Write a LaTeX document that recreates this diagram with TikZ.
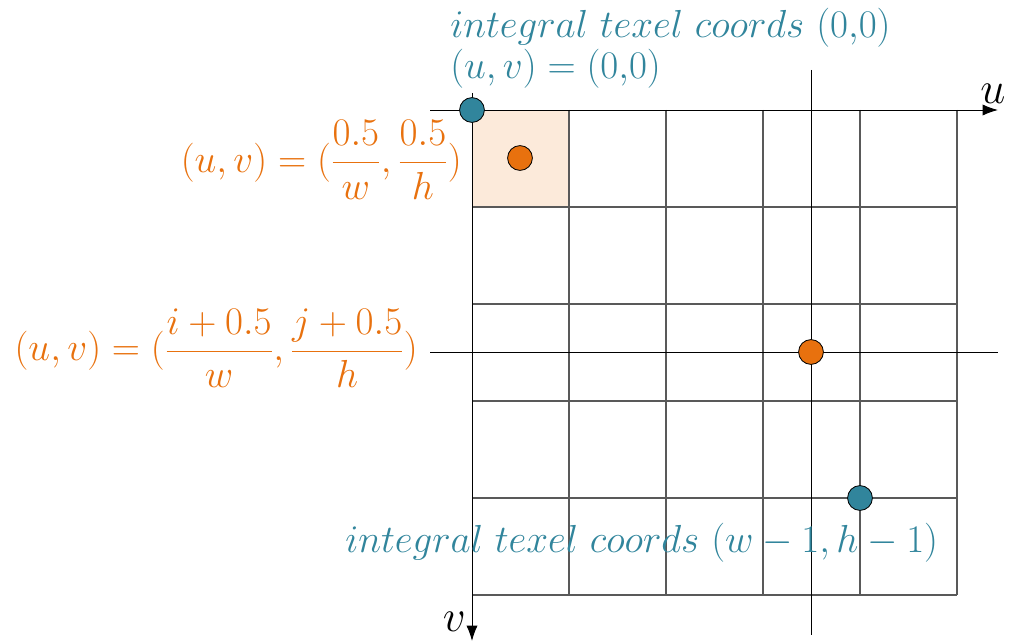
\RequirePackage{fix-cm}
\documentclass[tikz,border=0pt]{standalone}
\usetikzlibrary{arrows.meta, positioning}
\definecolor{TexelBlue}{RGB}{49,133,156}
\definecolor{TexelOrange}{RGB}{232,113,14}
\definecolor{TexelFill}{RGB}{252,234,218}
\begin{document}
\begin{tikzpicture}[x=0.025cm, y=-0.025cm,
    gridline/.style={draw=black!65, line width=0.8pt},
    axisline/.style={draw=black, line width=0.7pt},
    axisarrow/.style={axisline, -{Latex[length=11pt,width=8pt]}},
    dot/.style={circle, draw=black, line width=0.6pt, inner sep=0pt, minimum size=0.62cm},
    lbl/.style={font=\fontsize{27.8}{32}\selectfont, inner sep=0pt}]
\useasboundingbox (0,0) rectangle (1013,644);
% first texel
\fill[TexelFill] (472,110) rectangle (569,207);
% texel grid
\foreach \k in {1,...,5} {
    \draw[gridline] (472,110+97*\k) -- (957,110+97*\k);
    \draw[gridline] (472+97*\k,110) -- (472+97*\k,595);
}
% axes
\coordinate (uStart) at (430,110);
\coordinate (uEnd) at (998,110);
\coordinate (vStart) at (472,93);
\coordinate (vEnd) at (472,641);
\draw[axisarrow] (uStart) -- (uEnd);
\draw[axisarrow] (vStart) -- (vEnd);
\node[lbl, font=\fontsize{32}{36}\selectfont, anchor=south] (uLabel) at (993,104) {$u$};
\node[lbl, font=\fontsize{32}{36}\selectfont, anchor=east] (vLabel) at (466,622) {$v$};
% cross through sample
\coordinate (hStart) at (430,352);
\coordinate (hEnd) at (998,352);
\coordinate (cTop) at (811,70);
\coordinate (cBot) at (811,635);
\draw[axisline] (hStart) -- (hEnd);
\draw[axisline] (cTop) -- (cBot);
% dots
\node[dot, fill=TexelBlue] (origin) at (472,110) {};
\node[dot, fill=TexelOrange] (firstCenter) at (520,158) {};
\node[dot, fill=TexelOrange] (sample) at (811,352) {};
\node[dot, fill=TexelBlue] (lastTexel) at (860,498) {};
% labels
\node[lbl, text=TexelBlue, anchor=west] (originName) at (450,28) {$integral\ texel\ coords\ (0{,}0)$};
\node[lbl, text=TexelBlue, anchor=west] (originUV) at (450,69) {$(u,v)=(0{,}0)$};
\node[lbl, text=TexelOrange, anchor=east] (centerUV) at (462,160) {$\displaystyle(u,v)=(\frac{0.5}{w},\frac{0.5}{h})$};
\node[lbl, text=TexelOrange, anchor=east] (sampleUV) at (418,348) {$\displaystyle(u,v)=(\frac{i+0.5}{w},\frac{j+0.5}{h})$};
\node[lbl, text=TexelBlue, anchor=west] (lastName) at (345,543) {$integral\ texel\ coords\ (w-1,h-1)$};
\end{tikzpicture}
\end{document}
